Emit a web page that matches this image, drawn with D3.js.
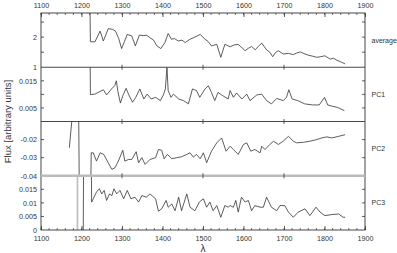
<!DOCTYPE html>
<html><head><meta charset="utf-8">
<script src="https://cdn.jsdelivr.net/npm/d3@7/dist/d3.min.js"></script>
<style>body{margin:0;background:#fff}svg{display:block}text{font-family:"Liberation Sans",Arial,sans-serif}</style>
</head><body><div id="chart"></div>
<script>
// ---- data ----
const xTicksMajor = [1100,1200,1300,1400,1500,1600,1700,1800,1900];
const panelNames = ["average","PC1","PC2","PC3"];

const avgLambda = [1220,1222,1233,1246,1254,1266,1276,1284,1292,1299,1306,1313,1324,1333,1343,1352,1361,1369,1378,1386,1396,1406,1414,1422,1430,1439,1448,1456,1468,1480,1493,1505,1513,1521,1534,1544,1554,1567,1577,1587,1596,1604,1612,1620,1629,1637,1645,1657,1665,1672,1680,1686,1698,1711,1723,1731,1740,1750,1760,1770,1781,1791,1801,1814,1822,1830,1840,1851];
const avgFlux = [4,1.85,1.84,2.20,1.87,2.28,2.26,2.20,1.95,1.62,1.85,2.09,2.04,1.71,2.07,2.05,2.06,1.98,1.90,1.71,1.62,1.82,2.12,1.93,1.95,1.87,1.90,1.82,1.93,2.00,2.09,1.93,1.85,1.71,1.76,1.33,1.76,1.68,1.74,1.76,1.65,1.55,1.63,1.69,1.58,1.70,1.80,1.58,1.50,1.35,1.50,1.55,1.44,1.46,1.42,1.47,1.51,1.45,1.40,1.37,1.33,1.35,1.38,1.27,1.30,1.24,1.18,1.11];

const pc1Lambda = [1220,1222,1233,1241,1254,1262,1274,1282,1286,1290,1296,1302,1310,1316,1326,1334,1344,1354,1362,1372,1383,1395,1403,1407,1411,1414,1421,1427,1440,1452,1464,1474,1484,1492,1505,1513,1521,1529,1537,1549,1562,1567,1575,1583,1596,1608,1616,1633,1645,1657,1669,1682,1698,1706,1712,1720,1734,1751,1771,1787,1800,1808,1820,1832,1849];
const pc1Flux = [0.05,0.0099,0.0101,0.0107,0.0117,0.0098,0.0120,0.0132,0.0150,0.0110,0.0068,0.0095,0.0122,0.0101,0.0071,0.0089,0.0120,0.0083,0.0101,0.0083,0.0089,0.0077,0.0101,0.0120,0.0199,0.0114,0.0089,0.0101,0.0083,0.0077,0.0065,0.0120,0.0114,0.0089,0.0120,0.0132,0.0107,0.0077,0.0107,0.0095,0.0083,0.0114,0.0089,0.0105,0.0083,0.0101,0.0077,0.0098,0.0101,0.0077,0.0065,0.0085,0.0077,0.0089,0.0117,0.0083,0.0077,0.0065,0.0061,0.0061,0.0089,0.0061,0.0056,0.0052,0.0040];

const pc2Lambda = [1170,1178,1193,1195,1222,1224,1229,1237,1246,1255,1266,1275,1283,1291,1302,1307,1316,1324,1335,1341,1349,1357,1369,1383,1390,1398,1404,1412,1423,1435,1447,1460,1468,1476,1484,1493,1501,1509,1521,1534,1546,1557,1567,1575,1587,1600,1608,1618,1628,1641,1645,1653,1665,1674,1686,1698,1711,1723,1731,1748,1764,1781,1793,1806,1818,1835,1851];
const pc2Flux = [-0.0245,-0.005,-0.005,-0.06,-0.06,-0.0273,-0.0273,-0.0319,-0.0273,-0.0282,-0.0328,-0.0365,-0.0355,-0.0319,-0.0259,-0.0319,-0.0310,-0.0310,-0.0267,-0.0328,-0.0300,-0.0337,-0.0310,-0.0300,-0.0255,-0.0259,-0.0306,-0.0282,-0.0306,-0.0300,-0.0295,-0.0282,-0.0273,-0.0297,-0.0282,-0.0306,-0.0273,-0.0328,-0.0264,-0.0218,-0.0191,-0.0264,-0.0237,-0.0255,-0.0282,-0.0227,-0.0218,-0.0264,-0.0255,-0.0273,-0.0237,-0.0255,-0.0227,-0.0209,-0.0227,-0.0209,-0.0182,-0.0209,-0.0218,-0.0215,-0.0209,-0.0200,-0.0191,-0.0185,-0.0191,-0.0182,-0.0173];

const pc3Lambda = [1204,1206,1223,1225,1229,1237,1244,1250,1256,1262,1269,1275,1280,1287,1295,1304,1313,1322,1332,1341,1349,1360,1369,1383,1390,1398,1409,1414,1423,1431,1440,1447,1460,1468,1480,1491,1501,1509,1517,1525,1534,1544,1554,1562,1567,1575,1581,1587,1595,1604,1612,1620,1628,1641,1649,1657,1669,1682,1690,1702,1711,1723,1735,1752,1764,1779,1789,1801,1818,1835,1846,1851];
const pc3Flux = [-0.01,0.05,0.05,0.0103,0.0115,0.0140,0.0152,0.0133,0.0146,0.0109,0.0133,0.0127,0.0152,0.0133,0.0146,0.0115,0.0146,0.0115,0.0121,0.0103,0.0127,0.0121,0.0133,0.0115,0.0069,0.0078,0.0109,0.0084,0.0096,0.0071,0.0121,0.0071,0.0133,0.0084,0.0071,0.0103,0.0115,0.0084,0.0103,0.0071,0.0090,0.0047,0.0090,0.0084,0.0090,0.0084,0.0109,0.0066,0.0121,0.0103,0.0109,0.0071,0.0090,0.0084,0.0084,0.0121,0.0084,0.0071,0.0090,0.0090,0.0066,0.0047,0.0066,0.0078,0.0053,0.0084,0.0066,0.0053,0.0057,0.0059,0.0047,0.0047];

const pc3GreyLambda = [1190,1190];
const pc3GreyFlux = [-0.01,0.03];

const yDomains = [[1,2.8],[0,0.02],[-0.04,-0.01],[0,0.02]];
const yTickValues = [[1.5,2,2.5],[0.005,0.01,0.015],[-0.03,-0.02],[0.005,0.01,0.015]];
const yTickLabels = [[1,2],[0.005,0.015],[-0.04,-0.03,-0.02],[0,0.005,0.01,0.015]];
const xLabel = "λ";
const yLabel = "Flux [arbitrary units]";

// ---- layout ----
const W = 397, H = 253;
const mL = 41, mR = 365, mT = 13, mB = 230;
const panelH = (mB - mT) / 4;
const ink = "#333";

const svg = d3.select("#chart").append("svg").attr("width", W).attr("height", H);
const x = d3.scaleLinear().domain([1100,1900]).range([mL,mR]);

const series = [
  [avgLambda, avgFlux],
  [pc1Lambda, pc1Flux],
  [pc2Lambda, pc2Flux],
  [pc3Lambda, pc3Flux]
];

const fmt = v => (v === 0 ? "0" : String(+v.toFixed(4)));

series.forEach((s, i) => {
  const y0 = mT + i * panelH, y1 = y0 + panelH;
  const y = d3.scaleLinear().domain(yDomains[i]).range([y1, y0]);
  const cid = "clip" + i;
  svg.append("clipPath").attr("id", cid).append("rect")
    .attr("x", mL).attr("y", y0).attr("width", mR - mL).attr("height", panelH);
  const g = svg.append("g").attr("clip-path", `url(#${cid})`);
  const line = d3.line().x(d => x(d[0])).y(d => y(d[1]));
  if (i === 3) {
    g.append("path").datum(d3.zip(pc3GreyLambda, pc3GreyFlux))
      .attr("d", line).attr("fill", "none").attr("stroke", "#bbb").attr("stroke-width", 1.6);
  }
  g.append("path").datum(d3.zip(s[0], s[1]))
    .attr("d", line).attr("fill", "none").attr("stroke", ink).attr("stroke-width", 0.8)
    .attr("stroke-linejoin", "round");

  yTickValues[i].forEach(v => {
    svg.append("line").attr("x1", mL).attr("x2", mL + 3).attr("y1", y(v)).attr("y2", y(v))
      .attr("stroke", ink).attr("stroke-width", 0.8);
    svg.append("line").attr("x1", mR - 3).attr("x2", mR).attr("y1", y(v)).attr("y2", y(v))
      .attr("stroke", ink).attr("stroke-width", 0.8);
  });
  const ax = d3.axisLeft(y).tickValues(yTickLabels[i]).tickSize(0).tickPadding(4).tickFormat(fmt);
  const ag = svg.append("g").attr("transform", `translate(${mL},0)`).call(ax);
  ag.select(".domain").remove();
  ag.selectAll("text").attr("font-size", 7.2).attr("fill", ink)
    .attr("font-family", "'Liberation Sans',Arial,sans-serif");

  svg.append("text").attr("x", mR + 6.5).attr("y", (y0 + y1) / 2 + 2.5)
    .attr("font-size", 7).attr("fill", ink).text(panelNames[i]);
});

svg.append("rect").attr("x", mL).attr("y", mT).attr("width", mR - mL).attr("height", mB - mT)
  .attr("fill", "none").attr("stroke", ink).attr("stroke-width", 0.9);
[1,2,3].forEach(k => {
  const yy = mT + k * panelH;
  svg.append("line").attr("x1", mL).attr("x2", mR).attr("y1", yy).attr("y2", yy)
    .attr("stroke", k === 3 ? "#bbb" : ink).attr("stroke-width", k === 3 ? 2.6 : 0.9);
  [1300,1500,1700].forEach(t => {
    svg.append("line").attr("x1", x(t)).attr("x2", x(t)).attr("y1", yy - 2.5).attr("y2", yy + 2.5)
      .attr("stroke", ink).attr("stroke-width", 0.8);
  });
});

const minor = d3.range(1100, 1901, 20);
const topAxis = d3.axisTop(x).tickValues(xTicksMajor).tickSize(-4).tickPadding(5).tickFormat(d3.format("d"));
const tg = svg.append("g").attr("transform", `translate(0,${mT})`).call(topAxis);
const botAxis = d3.axisBottom(x).tickValues(xTicksMajor).tickSize(-4).tickPadding(5.5).tickFormat(d3.format("d"));
const bg = svg.append("g").attr("transform", `translate(0,${mB})`).call(botAxis);
[tg, bg].forEach(g => {
  g.select(".domain").remove();
  g.selectAll("line").attr("stroke", ink).attr("stroke-width", 0.8);
  g.selectAll("text").attr("font-size", 7.2).attr("fill", ink)
    .attr("font-family", "'Liberation Sans',Arial,sans-serif");
});
minor.forEach(t => {
  svg.append("line").attr("x1", x(t)).attr("x2", x(t)).attr("y1", mT).attr("y2", mT + 2)
    .attr("stroke", ink).attr("stroke-width", 0.7);
  svg.append("line").attr("x1", x(t)).attr("x2", x(t)).attr("y1", mB - 2).attr("y2", mB)
    .attr("stroke", ink).attr("stroke-width", 0.7);
});

svg.append("text").attr("x", 203).attr("y", 251.5).attr("text-anchor", "middle")
  .attr("font-size", 10).attr("fill", ink).text(xLabel);
svg.append("text").attr("transform", `translate(11,${(mT + mB) / 2}) rotate(-90)`)
  .attr("text-anchor", "middle").attr("font-size", 9.5).attr("fill", ink).text(yLabel);
</script></body></html>
